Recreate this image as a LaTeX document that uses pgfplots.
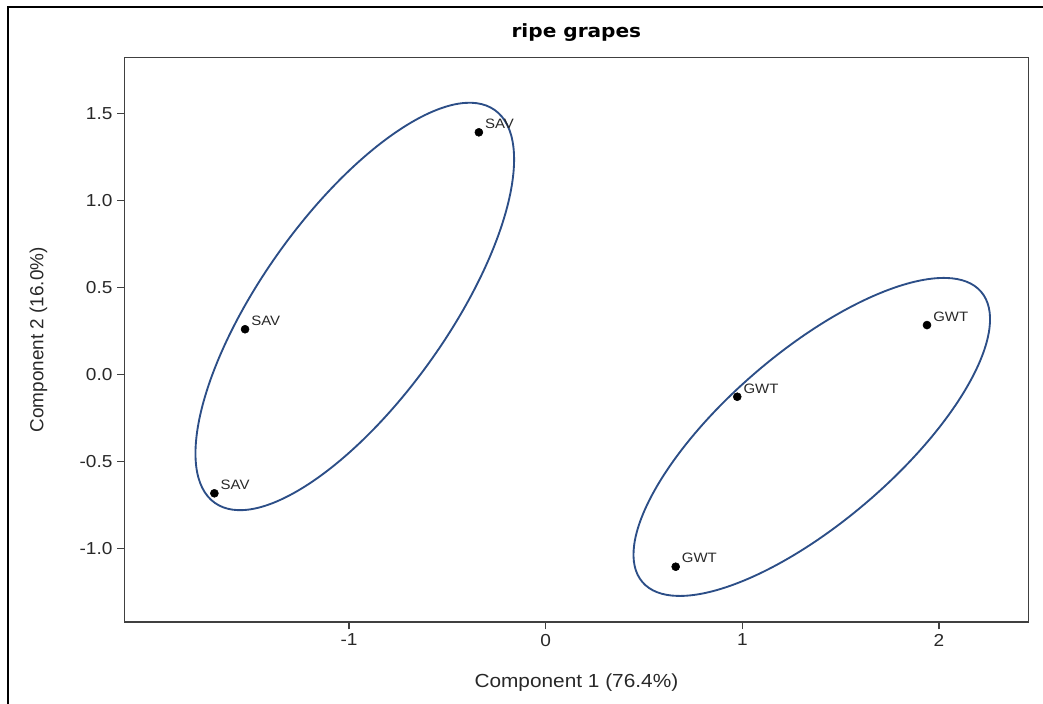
\documentclass[border=0pt]{standalone}
\usepackage{fontspec}
\setmainfont{Liberation Sans}[FakeStretch=1.1]
\newfontfamily\ylabfont{Liberation Sans}
\newfontfamily\titlefont{DejaVu Sans}[FakeStretch=1.1]
\usepackage{pgfplots}
\pgfplotsset{compat=1.18}
\definecolor{ellblue}{RGB}{44,78,135}
\definecolor{axgray}{RGB}{64,64,64}
\definecolor{txtgray}{RGB}{40,40,40}

\pgfplotstableread{
x y label
-0.340 1.391 SAV
-1.529 0.259 SAV
-1.685 -0.684 SAV
1.939 0.283 GWT
0.974 -0.129 GWT
0.661 -1.106 GWT
}\pcadata

\begin{document}
\begin{tikzpicture}
\useasboundingbox (-93.4pt,-61.5pt) rectangle (688.9pt,466.5pt);
\draw[line width=1.5pt] (-87.75pt,-61.5pt) -- (-87.75pt,460.9pt) -- (688.9pt,460.9pt);
\begin{axis}[
  at={(0pt,0pt)}, anchor=south west,
  scale only axis, width=677.85pt, height=423.5pt,
  xmin=-2.142, xmax=2.454, ymin=-1.4236, ymax=1.822,
  axis line style={axgray, line width=1.1pt},
  tick style={axgray, line width=1.1pt},
  tick align=outside, major tick length=5.5pt,
  xtick={-1,0,1,2}, ytick={-1,-0.5,0,0.5,1,1.5},
  xtick pos=left, ytick pos=left,
  /pgf/number format/assume math mode=true,
  y tick label style={/pgf/number format/.cd, fixed, fixed zerofill, precision=1, /tikz/.cd},
  tick label style={font=\fontsize{13}{15}\selectfont, text=txtgray},
  title={ripe grapes},
  title style={at={(axis description cs:0.5,1)}, anchor=base, yshift=9pt,
    font=\titlefont\bfseries\fontsize{13.7}{16}\selectfont, text=black},
  xlabel={Component 1 (76.4\%)},
  xlabel style={at={(axis description cs:0.5,-0.1157)}, anchor=base,
    font=\fontsize{14.2}{17}\selectfont, text=txtgray},
  ylabel={Component 2 (16.0\%)},
  ylabel style={at={(axis description cs:-0.0898,0.5)}, anchor=base,
    font=\ylabfont\fontsize{14.2}{17}\selectfont, text=txtgray},
]
\draw[ellblue, line width=1.4pt, rotate around={54.5:(axis cs:-0.971,0.390)}]
  (axis cs:-0.971,0.390) ellipse [x radius=180.9pt, y radius=69.9pt];
\draw[ellblue, line width=1.4pt, rotate around={40.6:(axis cs:1.353,-0.360)}]
  (axis cs:1.353,-0.360) ellipse [x radius=167.3pt, y radius=64.05pt];
\addplot[only marks, mark=*, mark size=3pt, black,
  nodes near coords, point meta=explicit symbolic,
  every node near coord/.append style={anchor=base west, inner sep=0pt,
    xshift=4.5pt, yshift=2.8pt, font=\fontsize{10.2}{12}\selectfont, text=txtgray}]
  table[x=x, y=y, meta=label] {\pcadata};
\end{axis}
\end{tikzpicture}
\end{document}
